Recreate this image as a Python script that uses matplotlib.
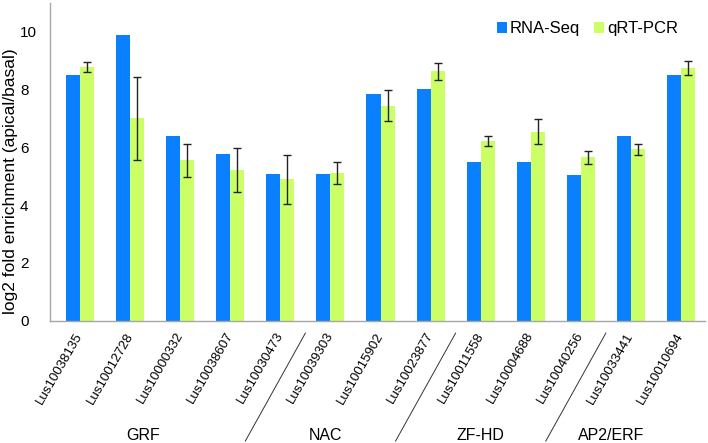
import matplotlib
matplotlib.use("Agg")
import matplotlib.pyplot as plt
import numpy as np

plt.rcParams["font.family"] = ["Liberation Sans", "DejaVu Sans"]

genes = ["Lus10038135", "Lus10012728", "Lus10000332", "Lus10038607",
         "Lus10030473", "Lus10039303", "Lus10015902", "Lus10023877",
         "Lus10011558", "Lus10004688", "Lus10040256", "Lus10033441",
         "Lus10010694"]
rna_seq = [8.50, 9.89, 6.38, 5.78, 5.07, 5.07, 7.84, 8.01, 5.48, 5.48, 5.03, 6.38, 8.49]
qrt_pcr = [8.78, 7.01, 5.55, 5.21, 4.90, 5.12, 7.44, 8.63, 6.22, 6.55, 5.66, 5.94, 8.75]
qrt_err = [0.17, 1.43, 0.57, 0.77, 0.85, 0.37, 0.54, 0.28, 0.17, 0.44, 0.23, 0.19, 0.24]

families = ["GRF", "NAC", "ZF-HD", "AP2/ERF"]
family_label_x = [1.25, 4.9, 8.0, 10.6]   # where the family names sit
family_breaks = [3.5, 6.5, 9.5]           # between gene groups

BLUE = "#0A80FF"
GREEN = "#CCFF66"
AXIS_GREY = "#A6A6A6"

fig = plt.figure(figsize=(7.08, 4.43), dpi=100)
ax = fig.add_axes([50 / 708, 1 - 320.7 / 443, 655 / 708, 317.7 / 443])

x = np.arange(len(genes))
w = 0.28
ax.bar(x - w / 2, rna_seq, w, color=BLUE, label="RNA-Seq")
ax.bar(x + w / 2, qrt_pcr, w, color=GREEN, label="qRT-PCR")
ax.errorbar(x + w / 2, qrt_pcr, yerr=qrt_err, fmt="none", ecolor="#222222",
            elinewidth=1.0, capsize=3, capthick=1.0)

ax.set_xlim(-0.6, 12.48)
ax.set_ylim(0, 11)
ax.set_yticks([0, 2, 4, 6, 8, 10])
ax.tick_params(axis="y", length=0, pad=21.6, labelsize=11)
for t in ax.get_yticklabels():
    t.set_horizontalalignment("left")

ax.set_xticks(x)
ax.set_xticklabels(genes, rotation=60, ha="right", va="center",
                   rotation_mode="anchor", fontsize=9.5)
ax.tick_params(axis="x", length=0, pad=9)

for side in ("top", "right"):
    ax.spines[side].set_visible(False)
for side in ("left", "bottom"):
    ax.spines[side].set_color(AXIS_GREY)
    ax.spines[side].set_linewidth(1.0)

ax.set_ylabel("log2 fold enrichment (apical/basal)", fontsize=12.5,
              va="center")
ax.yaxis.set_label_coords(-0.061, 0.44)

trans = ax.get_xaxis_transform()
for name, gx in zip(families, family_label_x):
    ax.text(gx, -0.36, name, transform=trans, ha="center", va="center",
            fontsize=11.5)
for b in family_breaks:
    ax.plot([b - 0.2, b + 1.0], [-0.379, -0.039], transform=trans,
            color="#333333", lw=0.7, clip_on=False)

ax.legend(loc="upper right", bbox_to_anchor=(0.969, 0.963), ncol=2,
          frameon=False, fontsize=12, handlelength=0.6, handleheight=0.6,
          handletextpad=0.2, columnspacing=0.8, borderaxespad=0)

fig.savefig("out.png", dpi=100)
